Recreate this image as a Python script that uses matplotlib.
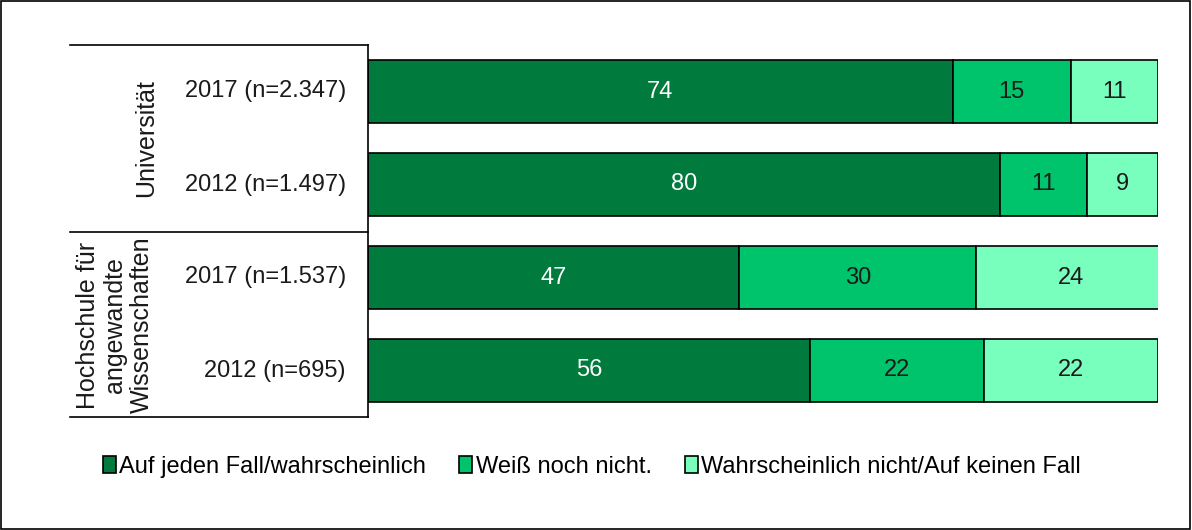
import matplotlib
matplotlib.use("Agg")
import matplotlib.pyplot as plt
from matplotlib.patches import Rectangle
from matplotlib.lines import Line2D

plt.rcParams['font.family'] = ['Liberation Sans', 'DejaVu Sans']

# Data
rows = ['2017 (n=2.347)', '2012 (n=1.497)', '2017 (n=1.537)', '2012 (n=695)']
groups = ['Universität', 'Hochschule für\nangewandte\nWissenschaften']
series = ['Auf jeden Fall/wahrscheinlich', 'Weiß noch nicht.',
          'Wahrscheinlich nicht/Auf keinen Fall']
yes = [74, 80, 47, 56]
unsure = [15, 11, 30, 22]
no = [11, 9, 24, 22]
colors = ['#007A3D', '#00C46B', '#78FFBE']
text_colors = ['white', '#1a1a1a', '#1a1a1a']

W, H = 1192, 530
fig = plt.figure(figsize=(W / 100, H / 100), dpi=100)

def fx(px):
    return px / W

def fy(py):
    return 1 - py / H

ax = fig.add_axes([fx(368), fy(417), fx(1158) - fx(368), fy(45) - fy(417)])

left = [0] * len(rows)
for vals, col, tc, name in zip([yes, unsure, no], colors, text_colors, series):
    bars = ax.barh(range(len(rows)), vals, left=left, height=0.667,
                   color=col, edgecolor='black', linewidth=1.2, label=name)
    for b, v in zip(bars, vals):
        ax.text(b.get_x() + b.get_width() / 2, b.get_y() + b.get_height() / 2,
                str(v), ha='center', va='center', color=tc, fontsize=17)
    left = [l + v for l, v in zip(left, vals)]

ax.set_xlim(0, 100)
ax.set_ylim(len(rows) - 0.5, -0.5)
ax.set_xticks([])
ax.set_yticks([])
for s in ['top', 'right', 'bottom']:
    ax.spines[s].set_visible(False)
ax.spines['left'].set_linewidth(1.2)

# row labels
for i, r in enumerate(rows):
    ax.text(-0.028, i, r, transform=ax.get_yaxis_transform(), ha='right',
            va='center', fontsize=17, color='#1a1a1a')

# table lines on the left
for py in [45, 232, 417]:
    fig.add_artist(Line2D([fx(70), fx(368)], [fy(py), fy(py)],
                          color='black', lw=1.2))

# group labels
fig.text(fx(146), fy(138), groups[0], rotation=90, ha='center', va='center',
         fontsize=18, color='#1a1a1a')
fig.text(fx(115), fy(325), groups[1], rotation=90, ha='center', va='center',
         fontsize=18, color='#1a1a1a', multialignment='center',
         linespacing=1.15)

# legend
handles = [Rectangle((0, 0), 1, 1, facecolor=c, edgecolor='black', lw=1.2)
           for c in colors]
fig.legend(handles, series, loc='center', bbox_to_anchor=(fx(592), fy(467)),
           ncol=3, frameon=False, fontsize=17, handlelength=0.55,
           handleheight=0.7, handletextpad=0.15, columnspacing=1.4)

# outer frame
fig.add_artist(Rectangle((0.001, 0.002), 0.997, 0.996, transform=fig.transFigure,
                         fill=False, edgecolor='black', lw=1.2))

fig.savefig('out.png', dpi=100)
